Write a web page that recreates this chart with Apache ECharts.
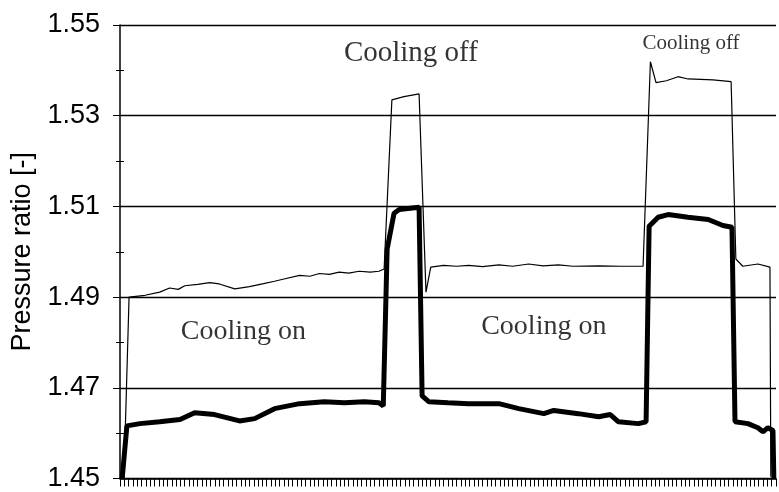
<!DOCTYPE html>
<html>
<head>
<meta charset="utf-8">
<script src="https://cdn.jsdelivr.net/npm/echarts@6/dist/echarts.min.js"></script>
<style>
  html, body { margin: 0; padding: 0; background: #fff; }
  #chart { width: 779px; height: 492px; }
</style>
</head>
<body>
<div id="chart"></div>
<script>
// time step vs pressure ratio
const yTicks = [1.45, 1.47, 1.49, 1.51, 1.53, 1.55];

const thinLine = [
  [0.9, 1.450], [2.1, 1.4900], [5.8, 1.4904], [9.2, 1.4911], [11.5, 1.4920], [13.5, 1.4917],
  [15, 1.4925], [18, 1.4928], [20.8, 1.4932], [23, 1.4929], [26.6, 1.4918], [30, 1.4923],
  [33, 1.4929], [35.8, 1.4935], [38, 1.4940], [41.6, 1.4948], [44, 1.4946], [46.2, 1.4952],
  [48.5, 1.4950], [50.8, 1.4955], [53, 1.4953], [55.4, 1.4957], [58, 1.4955], [60, 1.4957],
  [61.2, 1.4962], [63, 1.5335], [65.8, 1.5342], [69.3, 1.5348], [70.9, 1.4911], [72, 1.4966],
  [75, 1.4970], [78, 1.4968], [80.8, 1.4970], [84, 1.4967], [87.8, 1.4971], [91, 1.4968],
  [94.7, 1.4973], [98, 1.4969], [101.6, 1.4971], [105, 1.4968], [110.9, 1.4969], [116, 1.4968],
  [121.2, 1.4968], [122.9, 1.5419], [124.2, 1.5373], [126.6, 1.5377], [129.3, 1.5386],
  [131.6, 1.5381], [137.4, 1.5379], [141.6, 1.5375], [142.7, 1.4984], [144.3, 1.4968],
  [147.8, 1.4973], [150.6, 1.4966], [150.8, 1.4504]
];

const thickLine = [
  [0.5, 1.450], [1.6, 1.4616], [4.6, 1.4621], [9.2, 1.4625], [13.9, 1.4630], [17.3, 1.4645],
  [21.9, 1.4641], [27.7, 1.4627], [31.2, 1.4632], [35.8, 1.4654], [41.6, 1.4665], [47.3, 1.4669],
  [52, 1.4667], [56.6, 1.4669], [60, 1.4667], [61, 1.4660], [61.9, 1.5006], [63.5, 1.5085],
  [64.7, 1.5093], [69.3, 1.5098], [70, 1.4682], [71.6, 1.4669], [76, 1.4667], [80.8, 1.4665],
  [87.8, 1.4665], [92.4, 1.4654], [98.2, 1.4643], [100.5, 1.4650], [106.2, 1.4643],
  [110.9, 1.4636], [113.6, 1.4641], [115.5, 1.4625], [120.1, 1.4621], [121.9, 1.4625],
  [122.6, 1.5056], [124.7, 1.5076], [127, 1.5082], [131.6, 1.5076], [136.3, 1.5071],
  [139.7, 1.5058], [141.8, 1.5054], [142.5, 1.4625], [145.5, 1.4621], [147.8, 1.4612],
  [149, 1.4603], [150.1, 1.4612], [151.3, 1.4606], [151.5, 1.450]
];

const notes = [
  { text: "Cooling off", x: 67.4, y: 1.5438 },
  { text: "Cooling on", x: 28.6, y: 1.4823 },
  { text: "Cooling on", x: 98.2, y: 1.4834 },
  { text: "Cooling off", x: 132.3, y: 1.5460 }
];
const noteSizes = [29, 28, 28, 21];

const chart = echarts.init(document.getElementById("chart"), null, { renderer: "canvas" });
chart.setOption({
  backgroundColor: "#fff",
  animation: false,
  grid: { left: 120, right: 3, top: 25, bottom: 12 },
  xAxis: {
    type: "value", min: 0, max: 152, interval: 1,
    axisLine: { show: true, onZero: false, lineStyle: { color: "#000", width: 1.5 } },
    axisTick: { show: true, length: 8, lineStyle: { color: "#000", width: 1 } },
    axisLabel: { show: false },
    splitLine: { show: false }
  },
  yAxis: [
    {
      type: "value", min: yTicks[0], max: yTicks[yTicks.length - 1], interval: 0.02,
      name: "Pressure ratio [-]", nameLocation: "middle", nameGap: 84, nameRotate: 90,
      nameTextStyle: { fontFamily: "Liberation Sans", fontSize: 27, color: "#000" },
      axisLine: { show: true, lineStyle: { color: "#000", width: 1.5 } },
      axisTick: { show: true, length: 7, lineStyle: { color: "#000" } },
      minorTick: { show: true, splitNumber: 2, length: 4, lineStyle: { color: "#000" } },
      axisLabel: {
        fontFamily: "Liberation Sans", fontSize: 27, color: "#000", margin: 20,
        formatter: (v) => v.toFixed(2)
      },
      splitLine: { show: true, lineStyle: { color: "#000", width: 1.3 } }
    },
    {
      type: "value", min: 1.45, max: 1.55, interval: 0.01, position: "left",
      axisLine: { show: false },
      axisTick: { show: true, inside: true, length: 4, lineStyle: { color: "#000" } },
      axisLabel: { show: false },
      splitLine: { show: false }
    }
  ],
  series: [
    {
      type: "line", data: thinLine, showSymbol: false, smooth: false,
      lineStyle: { color: "#000", width: 1.2 }
    },
    {
      type: "line", data: thickLine, showSymbol: false, smooth: false,
      lineStyle: { color: "#000", width: 5 }
    },
    {
      type: "scatter", symbolSize: 0, silent: true,
      data: notes.map((n, i) => ({
        value: [n.x, n.y],
        label: {
          show: true, position: "inside", formatter: n.text,
          fontFamily: "Liberation Serif", fontSize: noteSizes[i], color: "#000"
        }
      }))
    }
  ]
});
</script>
</body>
</html>
